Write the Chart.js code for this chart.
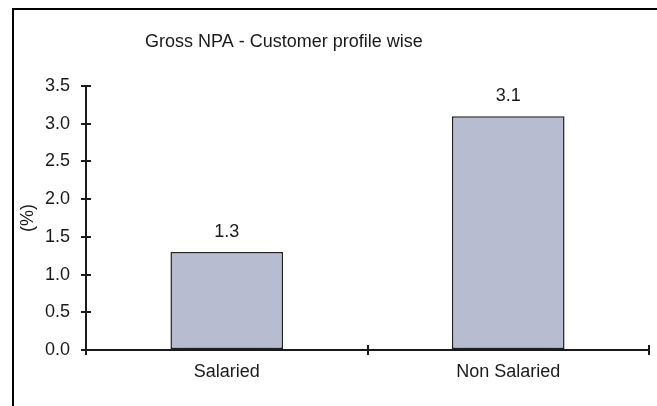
<!DOCTYPE html>
<html>
<head>
<meta charset="utf-8">
<script src="https://cdn.jsdelivr.net/npm/chart.js@4/dist/chart.umd.min.js"></script>
<style>
  html, body { margin: 0; padding: 0; background: #fff; }
  #wrap { position: relative; width: 657px; height: 406px; }
</style>
</head>
<body>
<div id="wrap"><canvas id="npaChart" width="657" height="406"></canvas></div>
<script>
const categories = ['Salaried', 'Non Salaried'];
const npaValues = [1.3, 3.1];
const yTickLabels = ['0.0', '0.5', '1.0', '1.5', '2.0', '2.5', '3.0', '3.5'];
const chartTitle = 'Gross NPA - Customer profile wise';
const yAxisTitle = '(%)';

const FONT = '"Liberation Sans", Arial, Helvetica, sans-serif';
const INK = '#1a1a1a';

Chart.defaults.font.family = FONT;
Chart.defaults.font.size = 18;
Chart.defaults.color = INK;

// outer frame (left + top edges only, the rest runs off the canvas)
const framePlugin = {
  id: 'frame',
  beforeDraw(chart) {
    const ctx = chart.ctx;
    ctx.save();
    ctx.strokeStyle = '#000';
    ctx.lineWidth = 2;
    ctx.beginPath();
    ctx.moveTo(13, chart.height);
    ctx.lineTo(13, 9);
    ctx.lineTo(chart.width, 9);
    ctx.stroke();
    ctx.restore();
  }
};

// title sits off to the left, not centred on the plot
const titlePlugin = {
  id: 'leftTitle',
  afterDraw(chart) {
    const ctx = chart.ctx;
    ctx.save();
    ctx.font = '18px ' + FONT;
    ctx.fillStyle = INK;
    ctx.textAlign = 'left';
    ctx.textBaseline = 'alphabetic';
    ctx.fillText(chartTitle, 145, 47);
    ctx.restore();
  }
};

// tick marks that cross the axis lines (inner half)
const crossTicksPlugin = {
  id: 'crossTicks',
  afterDraw(chart) {
    const ctx = chart.ctx;
    const x = chart.scales.x;
    const y = chart.scales.y;
    ctx.save();
    ctx.strokeStyle = INK;
    ctx.lineWidth = 2;
    ctx.beginPath();
    y.ticks.forEach((t, i) => {
      const py = Math.round(y.getPixelForTick(i));
      ctx.moveTo(y.right, py);
      ctx.lineTo(y.right + 5, py);
    });
    for (let i = 0; i <= categories.length; i++) {
      const px = Math.round(x.getPixelForValue(i - 0.5));
      ctx.moveTo(px, x.top);
      ctx.lineTo(px, x.top - 5);
    }
    ctx.stroke();
    ctx.restore();
  }
};

// value printed above each bar
const valueLabelPlugin = {
  id: 'valueLabels',
  afterDatasetsDraw(chart) {
    const ctx = chart.ctx;
    const meta = chart.getDatasetMeta(0);
    ctx.save();
    ctx.font = '18px ' + FONT;
    ctx.fillStyle = INK;
    ctx.textAlign = 'center';
    ctx.textBaseline = 'alphabetic';
    meta.data.forEach((bar, i) => {
      ctx.fillText(npaValues[i].toFixed(1), bar.x, bar.y - 15);
    });
    ctx.restore();
  }
};

new Chart(document.getElementById('npaChart').getContext('2d'), {
  type: 'bar',
  data: {
    labels: categories,
    datasets: [{
      data: npaValues,
      backgroundColor: '#b7bcd0',
      borderColor: '#222',
      borderWidth: 1.5,
      borderSkipped: false,
      barPercentage: 0.4,
      categoryPercentage: 1.0
    }]
  },
  options: {
    responsive: false,
    animation: false,
    layout: { padding: { top: 86, right: 8, bottom: 16, left: 0 } },
    plugins: {
      legend: { display: false },
      tooltip: { enabled: false },
      title: { display: false }
    },
    scales: {
      x: {
        afterFit(scale) { scale.height = 40; },
        grid: { drawOnChartArea: false, offset: true, color: INK, lineWidth: 2, tickLength: 5 },
        border: { color: INK, width: 2 },
        ticks: { padding: 6, color: INK }
      },
      y: {
        min: 0,
        max: 3.5,
        afterFit(scale) { scale.width = 86; },
        afterBuildTicks(scale) {
          scale.ticks = yTickLabels.map(v => ({ value: parseFloat(v) }));
        },
        grid: { drawOnChartArea: false, color: INK, lineWidth: 2, tickLength: 5 },
        border: { color: INK, width: 2 },
        ticks: {
          padding: 11,
          color: INK,
          callback: (value, index) => yTickLabels[index]
        },
        title: {
          display: true,
          text: yAxisTitle,
          color: INK,
          font: { size: 18 },
          padding: { top: 17, bottom: 0 }
        }
      }
    }
  },
  plugins: [framePlugin, titlePlugin, crossTicksPlugin, valueLabelPlugin]
});
</script>
</body>
</html>
